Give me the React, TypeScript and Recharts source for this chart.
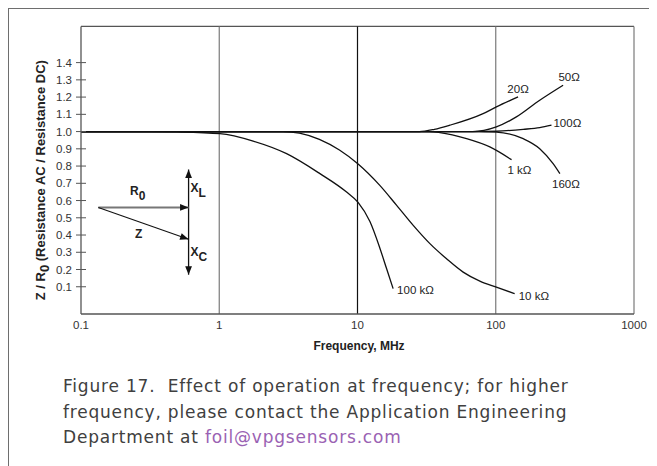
import React from 'react';
import { LineChart, Line, XAxis, YAxis, ReferenceLine, ReferenceDot } from 'recharts';

// Axis ticks
const xTicks = [0.1, 1, 10, 100, 1000];
const yTicks = [0.1, 0.2, 0.3, 0.4, 0.5, 0.6, 0.7, 0.8, 0.9, 1.0, 1.1, 1.2, 1.3, 1.4];
const xGridLines = [1, 10, 100, 1000];

// Impedance ratio curves: frequency (MHz) and Z/R0 for each nominal resistance
const freq20 = [0.1, 28, 36, 46.6, 81, 101, 145];
const ratio20 = [1, 1, 1.013, 1.037, 1.104, 1.143, 1.201];

const freq50 = [0.1, 68, 101, 141, 208, 307];
const ratio50 = [1, 1, 1.027, 1.085, 1.182, 1.269];

const freq100 = [0.1, 70, 101, 158, 208, 253];
const ratio100 = [1, 1, 1.002, 1.013, 1.023, 1.037];

const freq160 = [0.1, 76, 101, 158, 208, 260, 291];
const ratio160 = [1, 1, 0.997, 0.959, 0.901, 0.814, 0.756];

const freq1k = [0.1, 33, 39.5, 61.5, 90.6, 130];
const ratio1k = [1, 1, 0.994, 0.959, 0.911, 0.837];

const freq10k = [0.1, 2.9, 3.8, 5.3, 7.4, 10.1, 14.5, 19.2, 25.3, 33.4, 44.1, 58.1, 76.7, 101, 137];
const ratio10k = [1, 1, 0.991, 0.955, 0.893, 0.812, 0.688, 0.572, 0.456, 0.35, 0.262, 0.185, 0.133, 0.098, 0.06];

const freq100k = [0.1, 0.32, 0.5, 1.01, 1.76, 3.07, 5.35, 8.34, 10.1, 12.3, 14.5, 16.2, 18.1];
const ratio100k = [1, 1, 0.998, 0.988, 0.945, 0.872, 0.756, 0.649, 0.589, 0.478, 0.325, 0.207, 0.089];

const seriesNames = ['20Ω', '50Ω', '100Ω', '160Ω', '1 kΩ', '10 kΩ', '100 kΩ'];
const seriesFreqs = [freq20, freq50, freq100, freq160, freq1k, freq10k, freq100k];
const seriesRatios = [ratio20, ratio50, ratio100, ratio160, ratio1k, ratio10k, ratio100k];

// Phasor inset (frequency, ratio) in chart units
const phasorAxisTop = [0.6, 0.78];
const phasorAxisBottom = [0.6, 0.17];
const phasorOrigin = [0.1334, 0.56];
const phasorR0End = [0.6, 0.56];
const phasorZEnd = [0.6, 0.375];

const labelR0 = [0.226, 0.632];
const labelZ = [0.246, 0.383];
const labelXL = [0.62, 0.65];
const labelXC = [0.62, 0.279];

// End-of-curve label placement (pixel offsets from the last point)
const endLabelPlacement: Record<string, { dx: number; dy: number; anchor: string }> = {
  '20Ω': { dx: 0, dy: -8, anchor: 'middle' },
  '50Ω': { dx: 6, dy: -8, anchor: 'middle' },
  '100Ω': { dx: 2, dy: -2, anchor: 'start' },
  '1 kΩ': { dx: 8, dy: 10, anchor: 'middle' },
  '160Ω': { dx: 6, dy: 10, anchor: 'middle' },
  '100 kΩ': { dx: 4, dy: 1, anchor: 'start' },
  '10 kΩ': { dx: 4, dy: 2, anchor: 'start' },
};

const FONT = '"Liberation Sans", Arial, Helvetica, sans-serif';
const Y_MIN = -0.058;
const Y_MAX = 1.61;

const series = seriesNames.map((name, i) => ({
  name,
  data: seriesFreqs[i].map((f, j) => ({ f, v: seriesRatios[i][j] })),
}));

const YTick = (props: any) => {
  const { x, y, payload } = props;
  return (
    <g>
      <line x1={x - 5} x2={x + 5} y1={y} y2={y} stroke="#555" strokeWidth={1} />
      <text x={x - 9} y={y} dy="0.35em" textAnchor="end" fontSize={11.5} fill="#333" fontFamily={FONT}>
        {Number(payload.value).toFixed(1)}
      </text>
    </g>
  );
};

const XTick = (props: any) => {
  const { x, y, payload } = props;
  return (
    <text x={x} y={y + 11} dy="0.35em" textAnchor="middle" fontSize={11.5} fill="#333" fontFamily={FONT}>
      {String(payload.value)}
    </text>
  );
};

const YTitle = (props: any) => {
  const vb = props.viewBox || { x: 0, y: 0, width: 0, height: 0 };
  const cx = vb.x + 32;
  const cy = vb.y + vb.height / 2 + 10;
  return (
    <text
      x={cx}
      y={cy}
      transform={`rotate(-90, ${cx}, ${cy})`}
      textAnchor="middle"
      dominantBaseline="central"
      fontSize={13}
      fontWeight="bold"
      fill="#222"
      fontFamily={FONT}
    >
      <tspan>Z / R</tspan>
      <tspan dy={4}>0</tspan>
      <tspan dy={-4}> (Resistance AC / Resistance DC)</tspan>
    </text>
  );
};

const XTitle = (props: any) => {
  const vb = props.viewBox || { x: 0, y: 0, width: 0, height: 0 };
  return (
    <text
      x={vb.x + vb.width / 2 + 1.5}
      y={vb.y + 32}
      textAnchor="middle"
      dominantBaseline="central"
      fontSize={12}
      fontWeight="bold"
      fill="#222"
      fontFamily={FONT}
    >
      Frequency, MHz
    </text>
  );
};

// Line segment with filled arrowheads
const arrowShape = (heads: 'end' | 'both', color: string, width: number) => (props: any) => {
  const { x1, y1, x2, y2 } = props;
  const ang = Math.atan2(y2 - y1, x2 - x1);
  const len = 8.5;
  const half = 3.4;
  const head = (tx: number, ty: number, a: number) => {
    const bx = tx - len * Math.cos(a);
    const by = ty - len * Math.sin(a);
    const px = -Math.sin(a) * half;
    const py = Math.cos(a) * half;
    return `M${tx},${ty} L${bx + px},${by + py} L${bx - px},${by - py} Z`;
  };
  return (
    <g>
      <line x1={x1} y1={y1} x2={x2} y2={y2} stroke={color} strokeWidth={width} />
      <path d={head(x2, y2, ang)} fill="#111" />
      {heads === 'both' && <path d={head(x1, y1, ang + Math.PI)} fill="#111" />}
    </g>
  );
};

const subLabel = (main: string, sub: string) => (props: any) => (
  <text x={props.cx} y={props.cy} fontSize={12} fontWeight="bold" fill="#222" fontFamily={FONT}>
    <tspan>{main}</tspan>
    {sub && <tspan dy={5}>{sub}</tspan>}
  </text>
);

const endLabel = (name: string) => (props: any) => {
  const p = endLabelPlacement[name];
  return (
    <text
      x={props.cx + p.dx}
      y={props.cy + p.dy}
      dy="0.35em"
      textAnchor={p.anchor}
      fontSize={11.5}
      fill="#222"
      fontFamily={FONT}
    >
      {name}
    </text>
  );
};

export default function App() {
  return (
    <div style={{ position: 'relative', width: 649, height: 458 }}>
      <div
        style={{
          position: 'absolute',
          left: 0,
          top: 0,
          right: 0,
          bottom: 0,
          borderLeft: '1.5px solid #6e6e6e',
          borderTop: '1.5px solid #6e6e6e',
        }}
      />
      <div style={{ position: 'absolute', left: 0, top: 0 }}>
        <LineChart width={649} height={350} margin={{ top: 18.4, right: 23, bottom: 0, left: 0 }}>
          <XAxis
            dataKey="f"
            type="number"
            scale="log"
            domain={[0.1, 1000]}
            allowDataOverflow
            ticks={xTicks}
            interval={0}
            tick={<XTick />}
            tickSize={0}
            tickMargin={0}
            tickLine={false}
            axisLine={{ stroke: '#555', strokeWidth: 1.3 }}
            height={44}
            label={{ content: XTitle } as any}
          />
          <YAxis
            type="number"
            domain={[Y_MIN, Y_MAX]}
            allowDataOverflow
            ticks={yTicks}
            interval={0}
            tick={<YTick />}
            tickSize={0}
            tickMargin={0}
            tickLine={false}
            axisLine={{ stroke: '#555', strokeWidth: 1.3 }}
            width={73}
            label={{ content: YTitle } as any}
          />
          <ReferenceLine y={Y_MAX} stroke="#555" strokeWidth={1.3} />
          {xGridLines.map((g) => (
            <ReferenceLine key={g} x={g} stroke={g === 10 ? '#111' : '#7a7a7a'} strokeWidth={1.2} />
          ))}

          {series.map((s) => (
            <Line
              key={s.name}
              data={s.data}
              dataKey="v"
              type="monotone"
              stroke="#111"
              strokeWidth={1.3}
              dot={false}
              activeDot={false}
              isAnimationActive={false}
            />
          ))}

          {series.map((s) => {
            const last = s.data[s.data.length - 1];
            return (
              <ReferenceDot key={'lbl' + s.name} x={last.f} y={last.v} r={0} shape={endLabel(s.name)} />
            );
          })}

          {/* Phasor inset */}
          <ReferenceLine
            segment={[
              { x: phasorAxisBottom[0], y: phasorAxisBottom[1] },
              { x: phasorAxisTop[0], y: phasorAxisTop[1] },
            ]}
            shape={arrowShape('both', '#111', 1.3)}
          />
          <ReferenceLine
            segment={[
              { x: phasorOrigin[0], y: phasorOrigin[1] },
              { x: phasorR0End[0], y: phasorR0End[1] },
            ]}
            shape={arrowShape('end', '#777', 2)}
          />
          <ReferenceLine
            segment={[
              { x: phasorOrigin[0], y: phasorOrigin[1] },
              { x: phasorZEnd[0], y: phasorZEnd[1] },
            ]}
            shape={arrowShape('end', '#111', 1.1)}
          />
          <ReferenceDot x={labelR0[0]} y={labelR0[1]} r={0} shape={subLabel('R', '0')} />
          <ReferenceDot x={labelZ[0]} y={labelZ[1]} r={0} shape={subLabel('Z', '')} />
          <ReferenceDot x={labelXL[0]} y={labelXL[1]} r={0} shape={subLabel('X', 'L')} />
          <ReferenceDot x={labelXC[0]} y={labelXC[1]} r={0} shape={subLabel('X', 'C')} />
        </LineChart>
      </div>
      <div
        style={{
          position: 'absolute',
          left: 55,
          top: 366,
          width: 594,
          fontFamily: '"DejaVu Sans", Verdana, sans-serif',
          fontSize: 17,
          letterSpacing: '0.8px',
          lineHeight: '25.5px',
          color: '#404040',
          whiteSpace: 'nowrap',
        }}
      >
        Figure 17.&nbsp; Effect of operation at frequency; for higher
        <br />
        frequency, please contact the Application Engineering
        <br />
        Department at <span style={{ color: '#9a62b3' }}>foil@vpgsensors.com</span>
      </div>
    </div>
  );
}
